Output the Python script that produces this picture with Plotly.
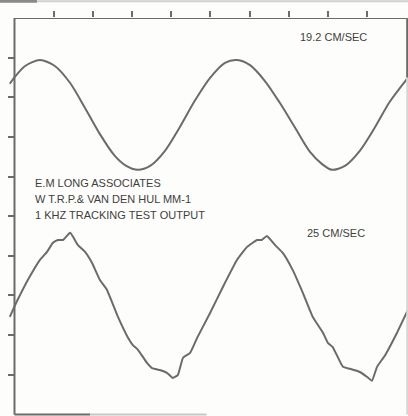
import plotly.graph_objects as go

# Oscilloscope traces (x, y in screen divisions, 10 x 10 grid)
top_x = [-0.12, -0.01, 0.27, 0.65, 1.03, 1.42, 1.80, 2.18, 2.56, 2.82, 3.15, 3.46, 3.84,
         4.22, 4.60, 4.99, 5.37, 5.68, 6.01, 6.39, 6.77, 7.16, 7.54, 7.84, 8.10, 8.43,
         8.81, 9.19, 9.57, 10.01]
top_y = [8.34, 8.49, 8.79, 8.94, 8.79, 8.36, 7.73, 7.07, 6.52, 6.29, 6.17, 6.27, 6.65,
         7.25, 7.91, 8.49, 8.87, 8.94, 8.81, 8.41, 7.86, 7.23, 6.62, 6.32, 6.17, 6.27,
         6.65, 7.23, 7.88, 8.46]

bot_x = [-0.12, 0.04, 0.14, 0.34, 0.65, 0.83, 0.98, 1.11, 1.24, 1.42, 1.62, 1.80, 1.98,
         2.18, 2.36, 2.64, 2.90, 3.02, 3.15, 3.38, 3.51, 3.71, 3.89, 4.04, 4.17, 4.30,
         4.48, 4.66, 4.99, 5.32, 5.68, 5.93, 6.19, 6.31, 6.44, 6.65, 6.85, 7.10, 7.36,
         7.61, 7.87, 8.00, 8.12, 8.38, 8.56, 8.81, 8.99, 9.12, 9.25, 9.46, 9.76, 10.04]
bot_y = [2.46, 2.81, 3.01, 3.39, 3.90, 4.10, 4.33, 4.40, 4.40, 4.58, 4.27, 4.10, 3.82,
         3.39, 3.14, 2.46, 1.93, 1.75, 1.63, 1.30, 1.17, 1.12, 1.05, 0.92, 1.00, 1.43,
         1.55, 1.93, 2.56, 3.22, 3.90, 4.22, 4.40, 4.40, 4.50, 4.27, 4.07, 3.64, 3.06,
         2.46, 2.06, 1.80, 1.70, 1.20, 1.15, 1.07, 0.95, 0.85, 1.20, 1.50, 2.06, 2.64]

div_ticks = [1, 2, 3, 4, 5, 6, 7, 8, 9]

speed_labels = ["19.2 CM/SEC", "25 CM/SEC"]
caption = ["E.M LONG ASSOCIATES", "W T.R.P.& VAN DEN HUL MM-1", "1 KHZ TRACKING TEST OUTPUT"]

ink = "#6b6b68"
txt = "#3f3f3d"
fnt = "Liberation Sans, Arial, sans-serif"

fig = go.Figure()
fig.add_trace(go.Scatter(x=top_x, y=top_y, mode="lines",
                         line=dict(color=ink, width=2, shape="spline", smoothing=0.8)))
fig.add_trace(go.Scatter(x=bot_x, y=bot_y, mode="lines",
                         line=dict(color=ink, width=2, shape="spline", smoothing=0.4)))

# frame of the scope screen
shapes = [
    dict(type="line", xref="x", yref="y", x0=0, x1=0, y0=0, y1=10, line=dict(color=ink, width=2)),
    dict(type="line", xref="x", yref="y", x0=0, x1=10, y0=10, y1=10, line=dict(color=ink, width=2)),
    dict(type="line", xref="x", yref="y", x0=0, x1=1.93, y0=0, y1=0, line=dict(color=ink, width=2)),
    dict(type="line", xref="x", yref="y", x0=1.93, x1=4.9, y0=0, y1=0, line=dict(color="#c8c8c6", width=2)),
    dict(type="line", xref="x", yref="y", x0=10.02, x1=10.02, y0=0, y1=10, line=dict(color="#d6d6d4", width=2)),
    dict(type="line", xref="x", yref="y", x0=10.02, x1=10.02, y0=8.5, y1=10, line=dict(color=ink, width=2)),
    # scan edge at the very top
    dict(type="line", xref="paper", yref="paper", x0=-0.03, x1=1.0, y0=1.042, y1=1.042,
         line=dict(color="#d0d0ce", width=2)),
    dict(type="line", xref="paper", yref="paper", x0=-0.03, x1=0.07, y0=1.042, y1=1.042,
         line=dict(color="#8a8a88", width=3)),
]

annotations = [
    dict(x=8.15, y=9.52, text=speed_labels[0]),
    dict(x=8.21, y=4.58, text=speed_labels[1]),
]
for a in annotations:
    a.update(xref="x", yref="y", showarrow=False, xanchor="center", yanchor="middle",
             font=dict(family=fnt, size=11, color=txt))
for i, line in enumerate(caption):
    annotations.append(dict(x=0.47, y=[5.84, 5.44, 5.03][i], xref="x", yref="y", text=line,
                            showarrow=False, xanchor="left", yanchor="middle",
                            font=dict(family=fnt, size=11, color=txt)))

fig.update_layout(
    width=408, height=416,
    margin=dict(l=9, r=0, t=18, b=0, autoexpand=False),
    paper_bgcolor="#fdfdfb", plot_bgcolor="#fdfdfb",
    showlegend=False,
    shapes=shapes, annotations=annotations,
    xaxis=dict(range=[-0.14, 10.04], side="top", tickvals=div_ticks, ticks="outside",
               ticklen=6, tickwidth=1.5, tickcolor=ink, showticklabels=False,
               showgrid=False, zeroline=False, showline=False, automargin=False),
    yaxis=dict(range=[-0.04, 10], anchor="free", position=0.0138, tickvals=div_ticks,
               ticks="outside", ticklen=7, tickwidth=1.5, tickcolor=ink,
               showticklabels=False, showgrid=False, zeroline=False, showline=False,
               automargin=False),
)

# page body has a default 8px margin; drop it so the figure fills the window
fig.write_html("out.html", config={"displayModeBar": False},
               post_script="document.body.style.margin='0';")
